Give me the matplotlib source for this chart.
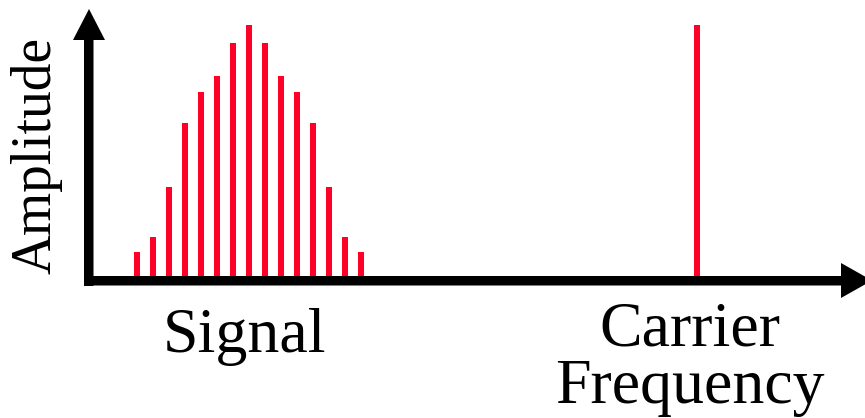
import matplotlib
matplotlib.use('Agg')
import matplotlib.pyplot as plt
from matplotlib.patches import Polygon

# spectrum data: signal band around a low frequency, single carrier line further up
signal_freq = list(range(1, 16))
signal_amp = [0.12, 0.18, 0.37, 0.62, 0.74, 0.80, 0.93, 1.00,
              0.93, 0.80, 0.74, 0.62, 0.37, 0.18, 0.12]
carrier_freq = [36]
carrier_amp = [1.00]

W, H = 865, 418
RED = '#ff0028'

plt.rcParams['font.family'] = ['Liberation Serif', 'DejaVu Serif']

fig = plt.figure(figsize=(W / 100, H / 100), dpi=100)
ax = fig.add_axes([0, 0, 1, 1])
ax.set_xlim(-120.7 / 16, (W - 120.7) / 16)
ax.set_ylim(-135 / 258.3, (H - 135) / 258.3)
ax.axis('off')


def px(x, y):
    # pixel (from top-left) -> figure fraction
    return (x / W, 1 - y / H)


# axes drawn as thick arrows
def arrow(points):
    fig.patches.append(Polygon([px(*p) for p in points], closed=True,
                               transform=fig.transFigure, facecolor='black',
                               edgecolor='none', zorder=1))


arrow([(84, 286), (93.5, 286), (93.5, 40), (105, 40), (89, 9), (73, 40), (84, 40)])
arrow([(84, 276), (841, 276), (841, 263), (872, 280.5), (841, 298), (841, 285.5), (84, 285.5)])

ax.bar(signal_freq, signal_amp, width=0.375, color=RED, zorder=3)
ax.bar(carrier_freq, carrier_amp, width=0.375, color=RED, zorder=3)

fs = 46
fig.text(*px(244, 352), 'Signal', fontsize=fs, ha='center', va='baseline')
fig.text(*px(690, 345), 'Carrier', fontsize=fs, ha='center', va='baseline')
fig.text(*px(690, 403), 'Frequency', fontsize=fs, ha='center', va='baseline')
fig.text(*px(37, 155), 'Amplitude', fontsize=40, rotation=90, ha='center', va='center')

fig.savefig('out.png', dpi=100)
plt.close(fig)
